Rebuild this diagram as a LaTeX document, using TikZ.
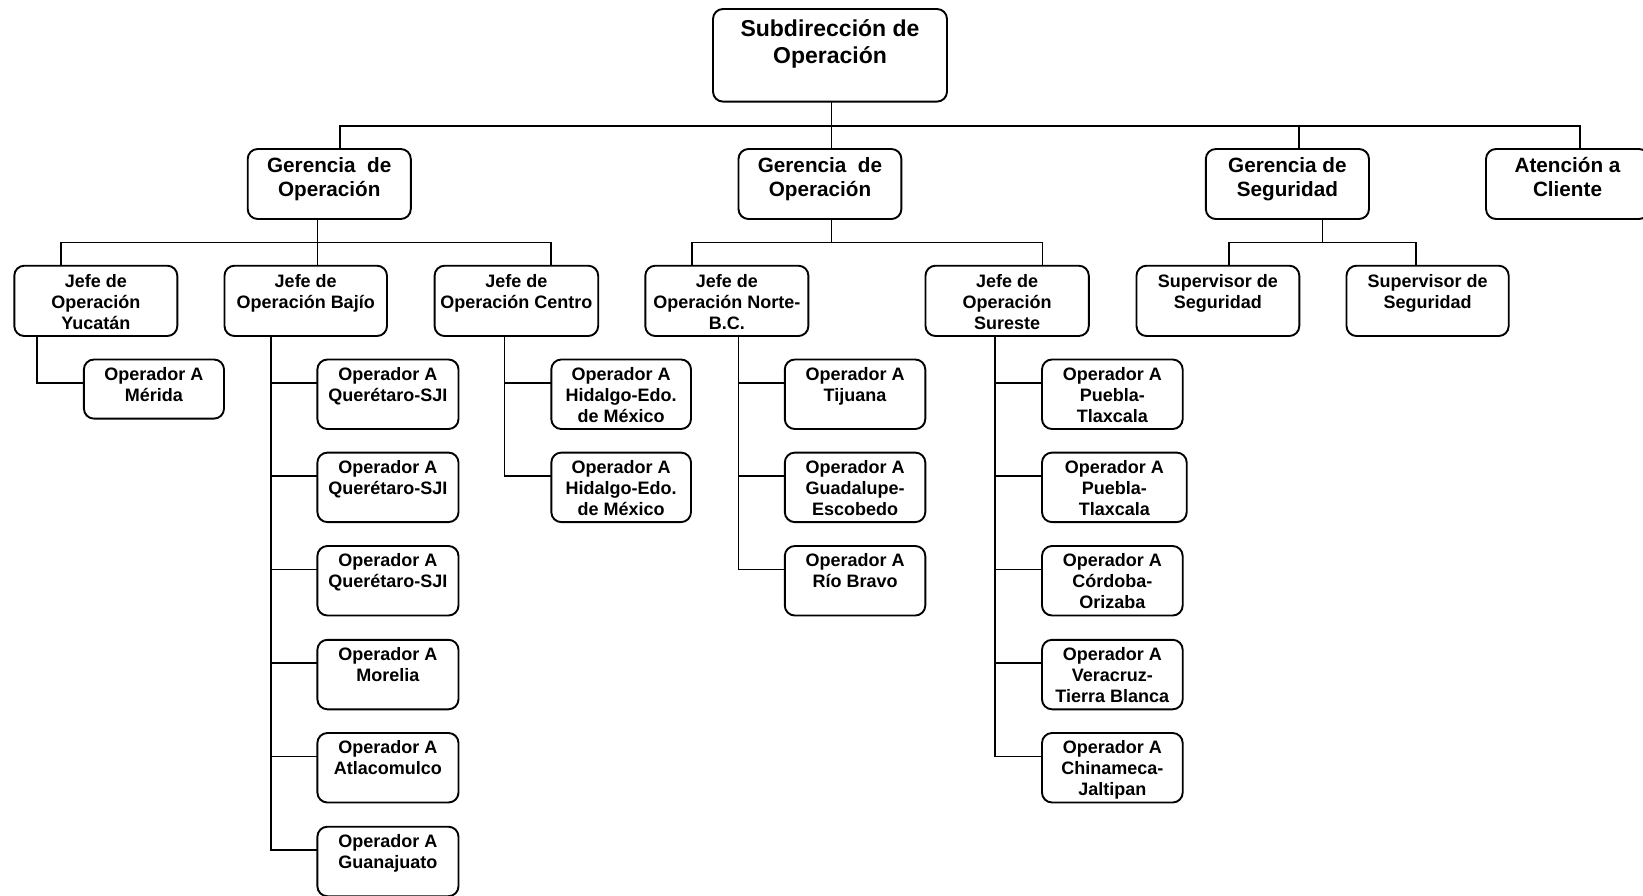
\documentclass[tikz,border=0pt]{standalone}
\usepackage{fontspec}
\setmainfont{Liberation Sans}
\tikzset{
  orgbox/.style={draw, line width=1.9pt, rounded corners=10pt, inner sep=0pt, outer sep=0pt},
  conn/.style={line width=1.6pt},
}
% font sizes of the three tiers
\newcommand\ftop{\fontsize{23}{27.3}\selectfont\bfseries}
\newcommand\fmid{\fontsize{20.7}{24.5}\selectfont\bfseries}
\newcommand\flow{\fontsize{18}{21}\selectfont\bfseries}
% \OB{name}{x1}{y1}{x2}{y2}{font}{first baseline}{text}
\newcommand\OB[8]{%
  \node[orgbox] (#1) at ({(#2+#4)/2},{(#3+#5)/2})
  {\parbox[c][\dimexpr#5pt-#3pt\relax][t]{\dimexpr#4pt-#2pt\relax}{#6\centering\rule{0pt}{#7pt}#8\par}};%
}
% operator box (height 69.5): name, x1, x2, top, text
\newcommand\OP[5]{%
  \node[orgbox] (#1) at ({(#2+#3)/2},{#4+34.75})
  {\parbox[c][69.5pt][t]{\dimexpr#3pt-#2pt\relax}{\flow\centering\rule{0pt}{20.5pt}#5\par}};%
}
\begin{document}
\begin{tikzpicture}[x=1pt,y=-1pt]
\useasboundingbox (0,0) rectangle (1643,895);

% ---- boxes
\OB{top}{713}{9}{947}{101.6}{\ftop}{27}{Subdirección de\\Operación}

\OB{g1}{247.7}{149}{410.8}{219}{\fmid}{23.3}{Gerencia\ \ de\\Operación}
\OB{g2}{738.5}{149}{901.4}{219}{\fmid}{23.3}{Gerencia\ \ de\\Operación}
\OB{g3}{1205.8}{149}{1369}{219}{\fmid}{23.3}{Gerencia de\\Seguridad}
\OB{at}{1486}{149}{1649}{219}{\fmid}{23.3}{Atención a\\Cliente}

\OB{j1}{14.3}{265.7}{177.3}{336}{\flow}{21.6}{Jefe de\\Operación\\Yucatán}
\OB{j2}{224.5}{265.7}{387}{336}{\flow}{21.6}{Jefe de\\Operación Bajío}
\OB{j3}{434.6}{265.7}{598.2}{336}{\flow}{21.6}{Jefe de\\Operación Centro}
\OB{j4}{645.3}{265.7}{808.4}{336}{\flow}{21.6}{Jefe de\\Operación Norte-\\B.C.}
\OB{j5}{925.5}{265.7}{1088.8}{336}{\flow}{21.6}{Jefe de\\Operación\\Sureste}
\OB{s1}{1136.5}{265.7}{1299.3}{336}{\flow}{21.6}{Supervisor de\\Seguridad}
\OB{s2}{1346.5}{265.7}{1508.7}{336}{\flow}{21.6}{Supervisor de\\Seguridad}

\OB{m1}{83.9}{359.5}{224}{418.6}{\flow}{20.5}{Operador A\\Mérida}

\OP{b1}{317.4}{458.5}{359.5}{Operador A\\Querétaro-SJI}
\OP{b2}{317.4}{458.5}{452.6}{Operador A\\Querétaro-SJI}
\OP{b3}{317.4}{458.5}{546}{Operador A\\Querétaro-SJI}
\OP{b4}{317.4}{458.5}{639.8}{Operador A\\Morelia}
\OP{b5}{317.4}{458.5}{733}{Operador A\\Atlacomulco}
\OP{b6}{317.4}{458.5}{826.7}{Operador A\\Guanajuato}

\OP{c1}{551.3}{691}{359.5}{Operador A\\Hidalgo-Edo.\\de México}
\OP{c2}{551.3}{691}{452.6}{Operador A\\Hidalgo-Edo.\\de México}

\OP{n1}{784.8}{925.3}{359.5}{Operador A\\Tijuana}
\OP{n2}{784.8}{925.3}{452.6}{Operador A\\Guadalupe-\\Escobedo}
\OP{n3}{784.8}{925.3}{546}{Operador A\\Río Bravo}

\OP{e1}{1042}{1182.7}{359.5}{Operador A\\Puebla-\\Tlaxcala}
\OP{e2}{1042}{1186.7}{452.6}{Operador A\\Puebla-\\Tlaxcala}
\OP{e3}{1042}{1182.7}{546}{Operador A\\Córdoba-\\Orizaba}
\OP{e4}{1042}{1182.7}{639.8}{Operador A\\Veracruz-\\Tierra Blanca}
\OP{e5}{1042}{1182.7}{733}{Operador A\\Chinameca-\\Jaltipan}

% ---- first tier bus
\coordinate (tdrop) at ([xshift=1.5pt]top.south);
\coordinate (busA) at ([yshift=-24.1pt]tdrop);
\coordinate (g1d) at ([xshift=10.75pt]g1.north);
\coordinate (g3d) at ([xshift=11.3pt]g3.north);
\coordinate (atd) at ([xshift=12.5pt]at.north);
\draw[conn] (tdrop) -- (tdrop |- g2.north);
\draw[conn] (g1d) |- (busA -| atd) -- (atd);
\draw[conn] (g3d) -- (g3d |- busA);

% ---- second tier buses
\coordinate (g1s) at ([xshift=-11.75pt]g1.south);
\coordinate (busB) at ([yshift=-23.3pt]g1s);
\coordinate (j1d) at ([xshift=-34.9pt]j1.north);
\coordinate (j3d) at ([xshift=34.6pt]j3.north);
\draw[conn] (g1s) -- (g1s |- j2.north);
\draw[conn] (j1d) |- (busB -| j3d) -- (j3d);

\coordinate (g2s) at (tdrop |- g2.south);
\coordinate (busC) at ([yshift=-23.3pt]g2s);
\coordinate (j4d) at ([xshift=-34.85pt]j4.north);
\coordinate (j5d) at ([xshift=35.45pt]j5.north);
\draw[conn] (g2s) -- (busC);
\draw[conn] (j4d) |- (busC -| j5d) -- (j5d);

\coordinate (g3s) at ([xshift=35pt]g3.south);
\coordinate (busD) at ([yshift=-23.3pt]g3s);
\coordinate (s1d) at ([xshift=11.1pt]s1.north);
\coordinate (s2d) at ([xshift=-11.8pt]s2.north);
\draw[conn] (g3s) -- (busD);
\draw[conn] (s1d) |- (busD -| s2d) -- (s2d);

% ---- operator trunks
\coordinate (k1) at ([xshift=-58.8pt]j1.south);
\draw[conn] (k1) |- ([yshift=-23.3pt]m1.north west);

\coordinate (k2) at ([xshift=-34.75pt]j2.south);
\foreach \b in {b1,b2,b3,b4,b5,b6}
  \draw[conn] (k2) |- ([yshift=-23.3pt]\b.north west);

\coordinate (k3) at ([xshift=-11.9pt]j3.south);
\foreach \b in {c1,c2}
  \draw[conn] (k3) |- ([yshift=-23.3pt]\b.north west);

\coordinate (k4) at ([xshift=11.75pt]j4.south);
\foreach \b in {n1,n2,n3}
  \draw[conn] (k4) |- ([yshift=-23.3pt]\b.north west);

\coordinate (k5) at ([xshift=-12.15pt]j5.south);
\foreach \b in {e1,e2,e3,e4,e5}
  \draw[conn] (k5) |- ([yshift=-23.3pt]\b.north west);
\end{tikzpicture}
\end{document}
